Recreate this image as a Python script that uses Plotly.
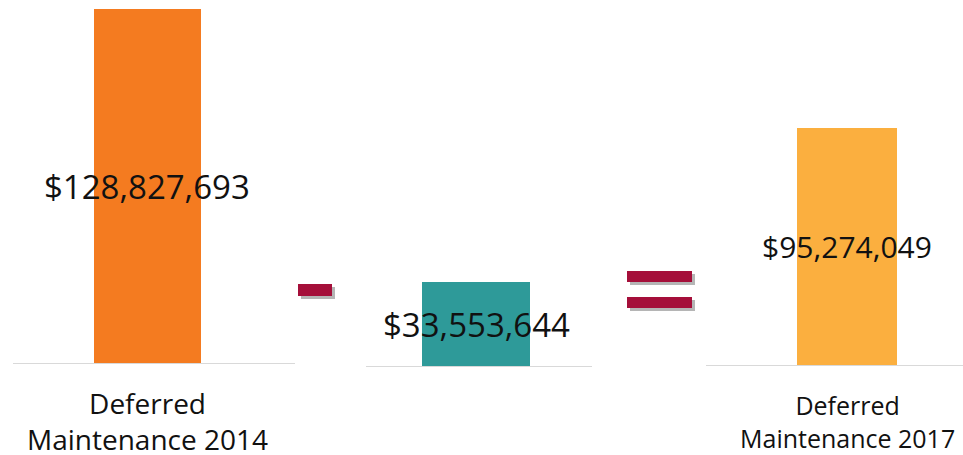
import plotly.graph_objects as go

# ---- data ----
categories = ["Deferred<br>Maintenance 2014", "", "Deferred<br>Maintenance 2017"]
values = [128827693, 33553644, 95274049]
value_labels = ["$128,827,693", "$33,553,644", "$95,274,049"]
colors = ["#F47B20", "#2E9A99", "#FBAF3F"]

W, H = 963, 455

def px(x):
    return x / W

def py(y):
    return (H - y) / H

fig = go.Figure()

# panel layout (pixel-based domains)
xdomains = [(13, 295), (366, 592), (706, 963)]
ydomains = [(363, 9), (366, 9), (365, 9)]
xranges = [[-1.257, 1.379], [-1.019, 1.074], [-1.41, 1.16]]
ymax = [values[0], 142.6e6, 143.1e6]
label_sizes = [33, 33, 30]
cat_sizes = [28, 28, 25]

for i in range(3):
    ax = "" if i == 0 else str(i + 1)
    fig.add_trace(go.Bar(
        x=[0], y=[values[i]], width=[1],
        marker=dict(color=colors[i], line=dict(width=0)),
        xaxis="x" + ax, yaxis="y" + ax, showlegend=False, hoverinfo="skip",
    ))
    fig.update_layout(**{
        "xaxis" + ax: dict(domain=[px(xdomains[i][0]), px(xdomains[i][1])],
                           range=xranges[i], showgrid=False, zeroline=False,
                           showticklabels=False, showline=True,
                           linecolor="#D9D9D9", linewidth=1, fixedrange=True,
                           anchor="y" + ax),
        "yaxis" + ax: dict(domain=[py(ydomains[i][0]), py(ydomains[i][1])],
                           range=[0, ymax[i]], visible=False, fixedrange=True,
                           anchor="x" + ax),
    })
    fig.add_annotation(x=0, y=values[i] / 2, xref="x" + ax, yref="y" + ax,
                       text=value_labels[i], showarrow=False,
                       font=dict(family="Open Sans", size=label_sizes[i], color="#111111"),
                       xanchor="center", yanchor="middle")
    if categories[i]:
        fig.add_annotation(x=0, y=py(421), xref="x" + ax, yref="paper",
                           text=categories[i], showarrow=False,
                           font=dict(family="Open Sans", size=cat_sizes[i], color="#111111"),
                           xanchor="center", yanchor="middle")

# operator symbols (minus, equals) with soft shadow
crimson = "#A50F3A"
shadow = "rgba(90,90,90,0.45)"
ops = [(298, 284, 332, 296), (627, 271, 692, 282), (627, 297, 692, 308)]
shapes = []
for (x0, y0, x1, y1) in ops:
    shapes.append(dict(type="rect", xref="paper", yref="paper",
                       x0=px(x0 + 3), x1=px(x1 + 3), y0=py(y1 + 3), y1=py(y0 + 3),
                       fillcolor=shadow, line=dict(width=0), layer="above"))
    shapes.append(dict(type="rect", xref="paper", yref="paper",
                       x0=px(x0), x1=px(x1), y0=py(y1), y1=py(y0),
                       fillcolor=crimson, line=dict(width=0), layer="above"))

fig.update_layout(
    width=W, height=H,
    margin=dict(l=0, r=0, t=0, b=0),
    paper_bgcolor="white", plot_bgcolor="white",
    shapes=shapes,
    bargap=0,
)

fig.write_html("out.html", config={"displayModeBar": False},
               post_script="document.body.style.margin='0px';document.body.style.overflow='hidden';")
